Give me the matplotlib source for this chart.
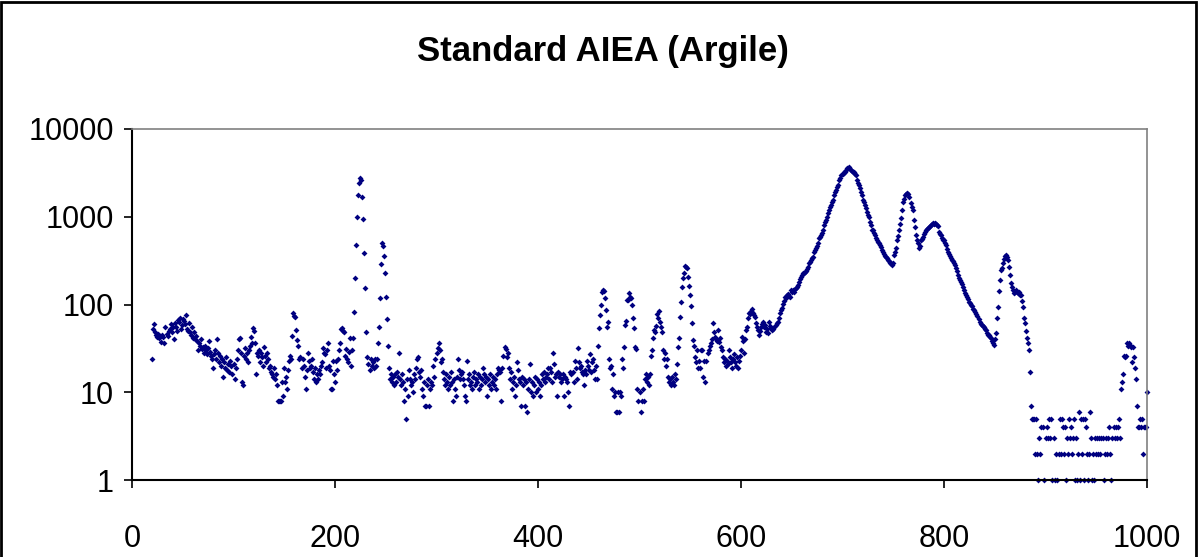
import matplotlib
matplotlib.use("Agg")
import matplotlib.pyplot as plt
from matplotlib.patches import Rectangle

# Spectrum counts, one value per channel starting at channel 20 (0 = empty channel)
first_channel = 20
counts = [
    24, 52, 60, 48, 45, 43, 46, 42, 44, 37,
    45, 43, 36, 55, 46, 44, 50, 52, 60, 48,
    56, 40, 62, 55, 50, 66, 64, 70, 52, 58,
    68, 65, 60, 76, 52, 50, 62, 48, 45, 55,
    42, 48, 40, 44, 38, 30, 36, 34, 40, 31,
    33, 28, 34, 30, 27, 32, 38, 29, 26, 24,
    19, 27, 30, 24, 40, 28, 22, 26, 20, 24,
    15, 22, 19, 25, 18, 21, 17, 23, 20, 16,
    21, 14, 19, 24, 30, 40, 42, 28, 13, 12,
    26, 32, 24, 28, 22, 30, 34, 43, 36, 54,
    50, 36, 16, 28, 26, 30, 22, 28, 25, 20,
    33, 26, 22, 28, 24, 19, 20, 17, 16, 15,
    19, 14, 16, 12, 8, 8, 8, 8, 13, 9,
    19, 13, 15, 11, 18, 23, 26, 24, 44, 80,
    74, 72, 51, 39, 34, 24, 25, 19, 24, 20,
    15, 11, 18, 28, 23, 19, 20, 24, 17, 14,
    19, 13, 16, 14, 18, 16, 20, 22, 32, 28,
    27, 19, 30, 36, 20, 18, 11, 11, 23, 16,
    13, 23, 18, 24, 30, 36, 52, 54, 50, 48,
    26, 31, 24, 22, 29, 42, 20, 30, 41, 83,
    200, 475, 1000, 1770, 2450, 2750, 2600, 1700, 940, 390,
    155, 49, 25, 21, 18, 24, 20, 22, 19, 24,
    20, 24, 36, 55, 120, 290, 500, 470, 360, 230,
    122, 68, 34, 19, 14, 16, 13, 15, 12, 16,
    13, 17, 15, 28, 14, 12, 16, 13, 8, 11,
    5, 14, 9, 18, 14, 12, 13, 10, 16, 14,
    19, 24, 25, 17, 15, 18, 11, 9, 13, 7,
    7, 12, 14, 7, 11, 13, 12, 20, 15, 24,
    28, 32, 36, 30, 22, 24, 17, 14, 12, 16,
    13, 11, 15, 12, 17, 13, 8, 14, 11, 9,
    15, 24, 18, 14, 16, 17, 14, 12, 9, 8,
    23, 14, 16, 12, 13, 11, 15, 17, 12, 14,
    13, 16, 11, 15, 12, 14, 19, 16, 13, 15,
    9, 14, 12, 16, 11, 13, 15, 12, 14, 11,
    16, 19, 18, 17, 8, 19, 26, 33, 31, 25,
    28, 19, 14, 17, 11, 13, 15, 9, 12, 22,
    18, 14, 13, 7, 15, 12, 14, 7, 13, 6,
    11, 14, 21, 10, 13, 9, 12, 15, 10, 14,
    11, 13, 9, 12, 16, 14, 17, 13, 15, 16,
    19, 14, 19, 17, 13, 28, 21, 15, 16, 9,
    17, 15, 16, 13, 14, 16, 9, 15, 14, 13,
    10, 7, 17, 16, 17, 13, 23, 19, 14, 32,
    22, 19, 20, 17, 16, 12, 18, 16, 23, 20,
    18, 27, 17, 22, 24, 18, 14, 20, 14, 34,
    54, 76, 98, 140, 145, 142, 118, 87, 55, 63,
    24, 19, 20, 11, 16, 9, 10, 6, 6, 10,
    6, 10, 9, 24, 19, 33, 58, 65, 112, 112,
    135, 122, 118, 98, 70, 54, 33, 31, 11, 8,
    10, 6, 8, 11, 8, 14, 16, 13, 15, 12,
    16, 26, 30, 42, 51, 48, 57, 78, 70, 84,
    63, 55, 49, 30, 24, 28, 20, 24, 15, 13,
    14, 12, 15, 13, 12, 16, 14, 21, 33, 42,
    72, 108, 160, 200, 230, 275, 265, 260, 208, 163,
    128, 96, 62, 39, 34, 25, 22, 30, 19, 23,
    19, 30, 30, 15, 23, 13, 23, 28, 30, 34,
    36, 40, 61, 49, 43, 40, 38, 51, 37, 42,
    33, 30, 25, 22, 24, 20, 23, 21, 30, 25,
    22, 19, 24, 27, 22, 20, 25, 19, 23, 26,
    30, 43, 38, 28, 40, 51, 56, 70, 80, 78,
    85, 89, 80, 75, 72, 61, 55, 51, 45, 50,
    56, 60, 63, 55, 58, 49, 52, 47, 63, 57,
    54, 51, 52, 56, 59, 61, 63, 70, 81, 86,
    91, 101, 110, 123, 120, 128, 132, 125, 123, 146,
    138, 145, 140, 150, 155, 160, 168, 181, 195, 207,
    218, 226, 230, 236, 240, 255, 270, 296, 308, 320,
    340, 350, 400, 420, 440, 470, 500, 570, 590, 620,
    660, 700, 800, 860, 920, 1000, 1100, 1200, 1280, 1370,
    1460, 1560, 1770, 1900, 2020, 2160, 2300, 2640, 2800, 3000,
    3100, 3200, 3260, 3400, 3560, 3620, 3660, 3500, 3400, 3350,
    3260, 3200, 3100, 3000, 2640, 2450, 2300, 2100, 1930, 1770,
    1560, 1490, 1370, 1260, 1140, 1050, 1000, 880, 800, 700,
    700, 650, 620, 570, 540, 520, 500, 480, 455, 420,
    400, 380, 360, 350, 335, 320, 310, 300, 295, 280,
    300, 366, 400, 440, 540, 600, 700, 830, 960, 1200,
    1490, 1600, 1770, 1800, 1850, 1820, 1700, 1440, 1300, 1200,
    930, 760, 620, 540, 500, 435, 470, 540, 560, 590,
    640, 670, 700, 730, 750, 770, 780, 800, 820, 840,
    830, 840, 820, 800, 775, 670, 640, 620, 580, 540,
    540, 500, 475, 430, 400, 380, 360, 335, 320, 310,
    300, 280, 260, 240, 217, 200, 190, 180, 170, 160,
    145, 134, 128, 123, 115, 108, 103, 98, 95, 90,
    86, 83, 78, 73, 68, 63, 60, 58, 57, 56,
    53, 51, 47, 45, 45, 43, 41, 38, 36, 35,
    40, 47, 70, 93, 143, 190, 250, 260, 295, 330,
    360, 366, 350, 320, 265, 217, 177, 160, 146, 134,
    140, 146, 138, 134, 140, 130, 128, 110, 93, 71,
    61, 50, 42, 36, 30, 17, 7, 5, 5, 5,
    2, 5, 2, 1, 3, 2, 4, 0, 4, 1,
    3, 4, 3, 5, 3, 5, 1, 0, 3, 1,
    2, 1, 0, 2, 5, 2, 5, 4, 2, 4,
    1, 3, 2, 5, 3, 4, 2, 3, 5, 1,
    3, 1, 2, 6, 1, 5, 2, 5, 1, 5,
    4, 2, 1, 2, 6, 3, 1, 2, 1, 3,
    2, 3, 2, 3, 2, 3, 0, 3, 1, 2,
    3, 2, 3, 4, 2, 1, 3, 4, 3, 4,
    3, 4, 5, 3, 11, 13, 16, 26, 25, 26,
    36, 34, 36, 35, 33, 22, 33, 25, 19, 14,
    7, 4, 4, 5, 4, 5, 2, 4, 4, 4,
    10,
]
channels = list(range(first_channel, first_channel + len(counts)))

x_ticks = [0, 200, 400, 600, 800, 1000]
y_ticks = [1, 10, 100, 1000, 10000]
title = "Standard AIEA (Argile)"

# keep only the channels with counts (log scale)
xs = [c for c, v in zip(channels, counts) if v > 0]
ys = [v for v in counts if v > 0]

plt.rcParams['font.family'] = ['Liberation Sans', 'DejaVu Sans']

fig = plt.figure(figsize=(11.98, 5.57), dpi=100)
ax = fig.add_axes([132 / 1198, 77 / 557, 1015 / 1198, 351 / 557])

ax.plot(xs, ys, linestyle='none', marker='D', markersize=3.0,
        markeredgewidth=0, color='#000080', clip_on=False)

ax.set_yscale('log')
ax.set_xlim(0, 1000)
ax.set_ylim(1, 10000)
ax.set_xticks(x_ticks)
ax.set_xticklabels([str(t) for t in x_ticks])
ax.set_yticks(y_ticks)
ax.set_yticklabels([str(t) for t in y_ticks])
ax.minorticks_off()
ax.tick_params(axis='both', direction='out', length=6, width=1.2,
               labelsize=22, colors='black')
ax.tick_params(axis='x', pad=26)
ax.tick_params(axis='y', pad=7)

for side in ['top', 'right']:
    ax.spines[side].set_color('#808080')
    ax.spines[side].set_linewidth(1.2)
for side in ['left', 'bottom']:
    ax.spines[side].set_color('black')
    ax.spines[side].set_linewidth(1.5)

fig.text(603 / 1198, 1 - 52 / 557, title, ha='center', va='center',
         fontsize=25, fontweight='bold')

# chart area border (bottom edge lies outside the picture)
fig.patches.append(Rectangle((0.001, -0.05), 0.997, 1.047, transform=fig.transFigure,
                             fill=False, edgecolor='black', linewidth=2))

fig.savefig('out.png', dpi=100)
